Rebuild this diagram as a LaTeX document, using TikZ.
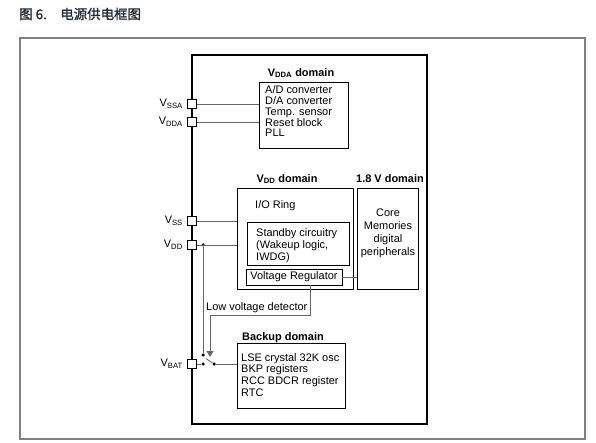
\documentclass[tikz,border=0pt]{standalone}
\usepackage{fontspec}
\setmainfont{Liberation Sans}
\newfontfamily\cjk[FakeBold=1.2]{Noto Sans CJK SC}
\usetikzlibrary{arrows.meta}
\definecolor{titolocol}{RGB}{35,40,50}
\tikzset{
  dominio/.style={draw, line width=0.8bp, inner sep=0pt},
  testo/.style={font=\fontsize{11}{11}\selectfont, inner sep=0pt, align=left},
  titolo/.style={font=\fontsize{11}{11}\selectfont\bfseries, inner sep=0pt},
  filo/.style={draw=black!60, line width=0.8bp},
  piedino/.style={draw, fill=white, line width=0.8bp, minimum size=8.5bp, inner sep=0pt},
  punto/.style={circle, fill, inner sep=0pt, minimum size=3.5bp},
}
\begin{document}
\begin{tikzpicture}[x=1bp, y=-1bp]
        % --- macro riutilizzabili -----------------------------------------
        \def\piedino#1#2#3{%
          \node[piedino] (#1) at (192,#2) {};
          \node[testo, anchor=east] (#1lab) at (183,#2) {V\textsubscript{#3}};}
        \useasboundingbox (0,0) rectangle (596,443);
        % --- titolo e cornice ---------------------------------------------
        \node[font=\cjk\fontsize{13.5}{13.5}\selectfont, text=titolocol,
              anchor=west, inner sep=0pt] (didascalia) at (19,14) {图 6.\quad 电源供电框图};
        \draw[black!50, line width=1.2bp] (20,38) rectangle (585,439);
        % --- chip ---------------------------------------------------------
        \draw[line width=1.4bp] (192,55) rectangle (427,424);
        % --- domini -------------------------------------------------------
        \node[dominio, minimum width=89bp, minimum height=66bp] (vddabox) at (303.5,115) {};
        \node[dominio, minimum width=116bp, minimum height=101bp] (vddbox) at (295,238.5) {};
        \node[dominio, minimum width=61bp, minimum height=101bp] (corebox) at (387.5,238.5) {};
        \node[dominio, minimum width=102bp, minimum height=43bp] (standby) at (298,243.5) {};
        \node[dominio, testo, minimum width=96bp, minimum height=16bp] (regolatore) at (294,277) {Voltage Regulator};
        \node[dominio, minimum width=108bp, minimum height=65bp] (backupbox) at (291,375.5) {};
        % --- titoli dei domini ---------------------------------------------
        \node[titolo] (vddatit) at (301,73) {V\textsubscript{DDA} domain};
        \node[titolo] (vddtit) at (287,179) {V\textsubscript{DD} domain};
        \node[titolo] (coretit) at (390,179) {1.8 V domain};
        \node[titolo] (backuptit) at (283,338) {Backup domain};
        % --- testi --------------------------------------------------------
        \node[testo, anchor=north west] (vddatesto) at (265,85)
          {A/D converter\\D/A converter\\Temp. sensor\\Reset block\\PLL};
        \node[testo, anchor=base west] (ioring) at (255,209) {I/O Ring};
        \node[testo, anchor=north west, font=\fontsize{11}{12.2}\selectfont] (standbytesto) at (256,228)
          {Standby circuitry\\(Wakeup logic,\\IWDG)};
        \node[testo, anchor=north, align=center, font=\fontsize{11}{13}\selectfont] (coretesto) at (388,209)
          {Core\\Memories\\digital\\peripherals};
        \node[testo, anchor=north west, font=\fontsize{11}{11.7}\selectfont] (backuptesto) at (241,353)
          {LSE crystal 32K osc\\BKP registers\\RCC BDCR register\\RTC};
        \node[testo, anchor=west] (rilevatore) at (206,308) {Low voltage detector};
        % --- piedini ------------------------------------------------------
        \piedino{vssa}{104}{SSA}
        \piedino{vdda}{122}{DDA}
        \piedino{vss}{221}{SS}
        \piedino{vdd}{245}{DD}
        \piedino{vbat}{364}{BAT}
        % --- commutatore --------------------------------------------------
        \node[punto] (giunzione) at (203,245) {};
        \node[punto] (contattovdd) at (203,355) {};
        \node[punto] (contattovbat) at (203,364) {};
        \node[punto] (fulcro) at (214,364) {};
        \coordinate (lama) at (206,358.5);
        \coordinate (freccia) at (210,357);
        % --- collegamenti -------------------------------------------------
        \draw[filo] (vssa.east) -- (vssa.east -| vddabox.west);
        \draw[filo] (vdda.east) -- (vdda.east -| vddabox.west);
        \draw[filo] (vss.east) -- (vss.east -| vddbox.west);
        \draw[filo] (vdd.east) -- (vdd.east -| vddbox.west);
        \draw[filo] (giunzione) -- (contattovdd);
        \draw[filo] (vbat.east) -- (contattovbat);
        \draw[filo] (fulcro) -- (lama);
        \draw[filo] (fulcro) -- (fulcro -| backupbox.west);
        \draw[filo] (regolatore.east) -- (regolatore.east -| corebox.west);
        \draw[filo, -{Triangle[length=6bp, width=7bp]}]
          ([xshift=16bp]regolatore.south) -- ++(0,30) -| (freccia);
    \end{tikzpicture}
\end{document}
